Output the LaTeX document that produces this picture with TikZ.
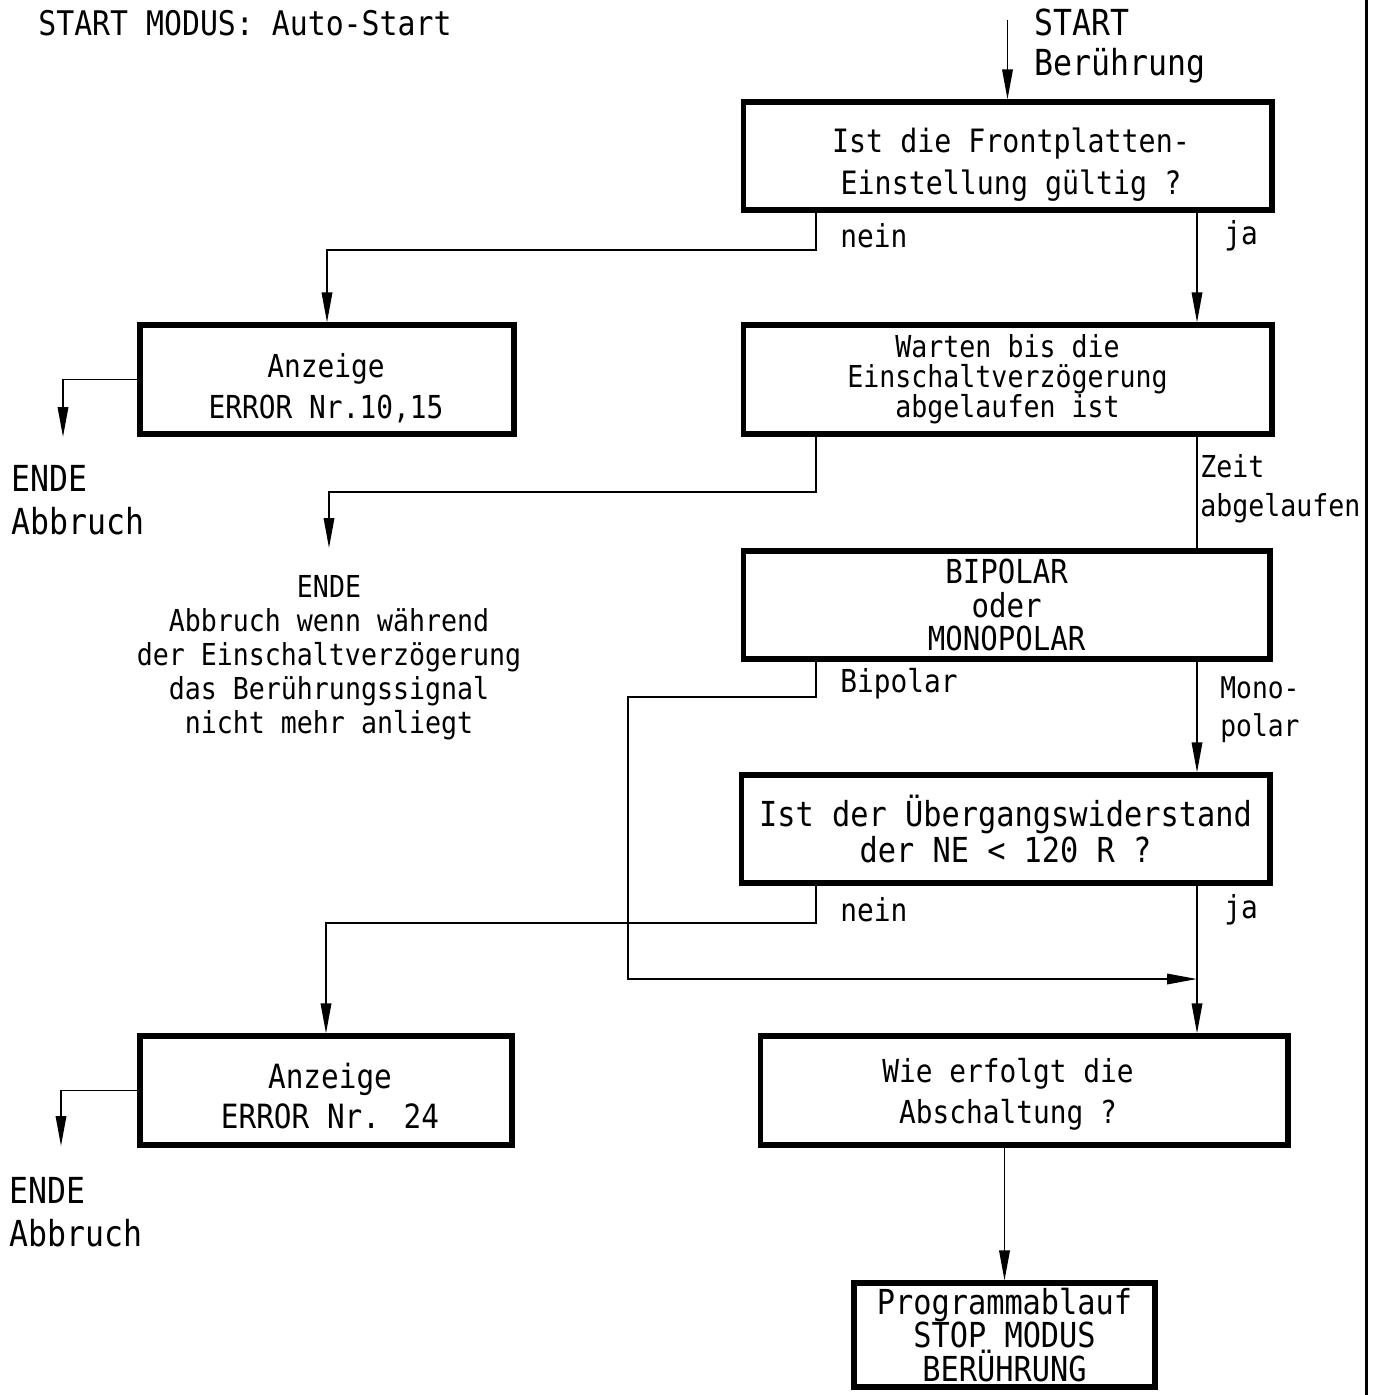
\documentclass[tikz,border=0pt]{standalone}
\usepackage{fontspec}
\newfontfamily\din[FakeStretch=0.88]{DejaVu Sans Mono}
\usetikzlibrary{arrows.meta}
\lineskiplimit=-100pt
\lineskip=0pt
\newcommand\dinf[2]{\din\fontsize{#1}{#2}\selectfont}
\begin{document}
\begin{tikzpicture}[x=0.02cm,y=-0.02cm,
  box/.style={draw, line width=2.9pt, rectangle, inner sep=0pt, align=center},
  btxt/.style={inner sep=0pt, align=center},
  conn/.style={line width=1pt},
  arr/.style={conn, -{Triangle[length=0.6cm,width=0.21cm]}},
  lbl/.style={inner sep=0pt, align=left, anchor=west},
]
\useasboundingbox (0,0) rectangle (1376,1395);

% boxes
\node[box, minimum width=10.58cm, minimum height=2.16cm] (b1) at (1007.5,156) {};
\node[btxt, font=\dinf{18.3}{23.9}] (t1) at (1011,165) {Ist die Frontplatten-\\Einstellung gültig ?};
\node[box, minimum width=7.48cm, minimum height=2.18cm] (b2) at (327,379.5) {};
\node[btxt, font=\dinf{18}{23.3}] (t2) at (326,388.5) {Anzeige\\ERROR Nr.10,15};
\node[box, minimum width=10.58cm, minimum height=2.18cm, font=\dinf{17.2}{17}] (b3) at (1007.5,379.5) {Warten bis die\\Einschaltverzögerung\\abgelaufen ist};
\node[box, minimum width=10.54cm, minimum height=2.16cm, font=\dinf{18.8}{18.8}] (b4) at (1006.5,605) {BIPOLAR\\oder\\MONOPOLAR};
\node[box, minimum width=10.58cm, minimum height=2.16cm, font=\dinf{19.6}{21}] (b5) at (1005.5,829) {Ist der Übergangswiderstand\\der NE < 120 R ?};
\node[box, minimum width=7.44cm, minimum height=2.18cm] (b6) at (326,1090.5) {};
\node[btxt, font=\dinf{19}{22.8}] (t6) at (330,1096.5) {Anzeige\\ERROR Nr. 24};
\node[box, minimum width=10.56cm, minimum height=2.18cm] (b7) at (1024,1090.5) {};
\node[btxt, font=\dinf{18}{23.3}] (t7) at (1008,1094) {Wie erfolgt die\\Abschaltung ?};
\node[box, minimum width=6.02cm, minimum height=2.08cm, font=\dinf{19.6}{19}] (b8) at (1004.5,1335) {Programmablauf\\STOP MODUS\\BERÜHRUNG};

% texts
\node[lbl, font=\dinf{19.3}{24}] (title) at (38,23) {START MODUS: Auto-Start};
\node[lbl, font=\dinf{20.4}{22.8}] (start) at (1034,46) {START\\Berührung};
\node[lbl, font=\dinf{18}{22}] (nein1) at (840,236) {nein};
\node[lbl, font=\dinf{18}{22}] (ja1) at (1224,236) {ja};
\node[lbl, font=\dinf{20.4}{24.5}] (ende1) at (11,500) {ENDE\\Abbruch};
\node[lbl, font=\dinf{17.2}{22.2}] (zeit) at (1200,489) {Zeit\\abgelaufen};
\node[btxt, font=\dinf{17.2}{19.3}] (ende2) at (329,658) {ENDE\\Abbruch wenn während\\der Einschaltverzögerung\\das Berührungssignal\\nicht mehr anliegt};
\node[lbl, font=\dinf{18}{22}] (bip) at (840,684) {Bipolar};
\node[lbl, font=\dinf{17}{21.6}] (mono) at (1220,710) {Mono-\\polar};
\node[lbl, font=\dinf{18}{22}] (nein2) at (840,910) {nein};
\node[lbl, font=\dinf{18}{22}] (ja2) at (1224,910) {ja};
\node[lbl, font=\dinf{20.4}{24.5}] (ende3) at (9,1212) {ENDE\\Abbruch};

% connectors
\coordinate (s0) at (1007.5,20);
\draw[arr] (s0) -- (b1.north);
\coordinate (n1) at (816,250);
\draw[arr] (n1 |- b1.south) -- (n1) -| (b2.north);
\coordinate (jx) at (1197,0);
\draw[arr] (jx |- b1.south) -- (jx |- b3.north);
\coordinate (e1) at (63,437);
\draw[arr] (b2.west) -| (e1);
\coordinate (n2) at (816,492);
\coordinate (e2) at (329,548);
\draw[arr] (n2 |- b3.south) -- (n2) -| (e2);
\draw[conn] (jx |- b3.south) -- (jx |- b4.north);
\coordinate (bp1) at (816,697);
\coordinate (bp2) at (628,979);
\coordinate (jn) at (1197,979);
\draw[arr] (bp1 |- b4.south) -- (bp1) -| (bp2) -- (jn);
\draw[arr] (jx |- b4.south) -- (jx |- b5.north);
\coordinate (n3) at (816,923);
\draw[arr] (n3 |- b5.south) -- (n3) -| (b6.north);
\draw[arr] (jx |- b5.south) -- (jx |- b7.north);
\coordinate (e3) at (61,1146);
\draw[arr] (b6.west) -| (e3);
\draw[arr] (b8.north |- b7.south) -- (b8.north);

% right border line
\coordinate (r0) at (1366,0);
\coordinate (r1) at (1366,1395);
\draw[line width=1.7pt] (r0) -- (r1);
\end{tikzpicture}
\end{document}
